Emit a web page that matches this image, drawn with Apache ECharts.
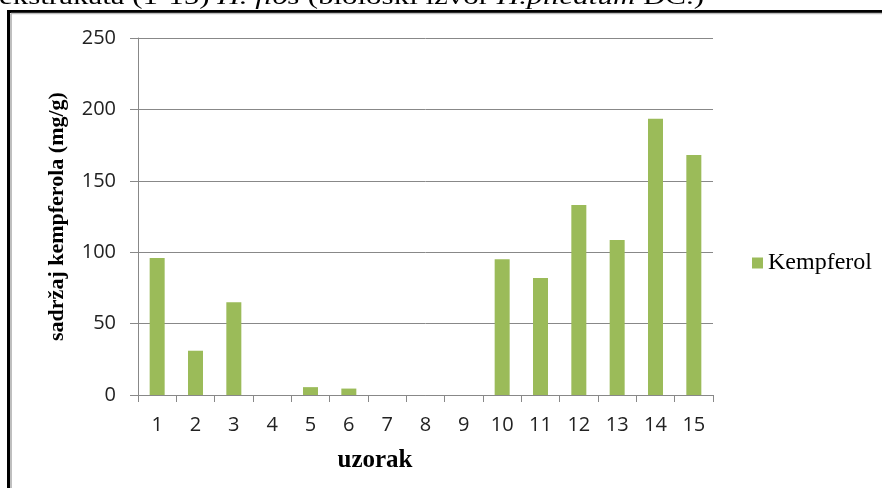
<!DOCTYPE html>
<html>
<head>
<meta charset="utf-8">
<script src="https://cdn.jsdelivr.net/npm/echarts@6/dist/echarts.min.js"></script>
<style>
  html, body { margin: 0; padding: 0; background: #fff; }
  #chart { width: 882px; height: 488px; }
</style>
</head>
<body>
<div id="chart"></div>
<script>
const categories = ['1', '2', '3', '4', '5', '6', '7', '8', '9', '10', '11', '12', '13', '14', '15'];
const kempferol = [96, 31, 65, 0, 5.5, 4.5, 0, 0, 0, 95, 82, 133, 108.5, 193.5, 168];
const seriesName = 'Kempferol';
const yAxisName = 'sadržaj kempferola (mg/g)';
const xAxisName = 'uzorak';
const yMin = 0, yMax = 250, yInterval = 50;

const chart = echarts.init(document.getElementById('chart'), null, { renderer: 'canvas' });
const serif = '"Liberation Serif", "Times New Roman", serif';
const sans = '"Open Sans", "Liberation Sans", sans-serif';

chart.setOption({
  animation: false,
  backgroundColor: '#fff',
  grid: { left: 138, right: 169, top: 38, bottom: 93, containLabel: false },
  legend: {
    data: [seriesName],
    left: 747, top: 246,
    icon: 'rect', itemWidth: 11, itemHeight: 11, itemGap: 5,
    textStyle: { fontFamily: serif, fontSize: 24, color: '#000' }
  },
  xAxis: {
    type: 'category',
    data: categories,
    axisLine: { lineStyle: { color: '#888', width: 1 } },
    axisTick: { show: true, length: 7, lineStyle: { color: '#888' } },
    axisLabel: { fontFamily: sans, fontSize: 20, color: '#222', margin: 20 },
    splitLine: { show: false }
  },
  yAxis: {
    type: 'value',
    min: yMin, max: yMax, interval: yInterval,
    name: yAxisName,
    nameLocation: 'middle',
    nameRotate: 90,
    nameGap: 70,
    nameTextStyle: { fontFamily: serif, fontSize: 22, fontWeight: 'bold', color: '#000' },
    axisLine: { show: true, lineStyle: { color: '#888', width: 1 } },
    axisTick: { show: true, length: 8, lineStyle: { color: '#888' } },
    axisLabel: { fontFamily: sans, fontSize: 20, color: '#222', margin: 22 },
    splitLine: { show: true, lineStyle: { color: '#888', width: 1 } }
  },
  series: [{
    name: seriesName,
    type: 'bar',
    data: kempferol,
    barWidth: 15,
    itemStyle: { color: '#9BBB59' }
  }],
  graphic: [
    {
      type: 'text', x: -1, y: 10, scaleX: 1.29,
      style: {
        text: '{n|ekstrakata (1-15) }{i|H. fios}{n| (biološki izvor }{i|H.plicatum}{n| DC.)}',
        verticalAlign: 'bottom',
        rich: {
          n: { fontFamily: serif, fontSize: 24, fill: '#000' },
          i: { fontFamily: serif, fontSize: 24, fontStyle: 'italic', fill: '#000' }
        }
      }
    },
    { type: 'rect', shape: { x: 0, y: 10, width: 882, height: 478 }, style: { fill: '#fff' }, z: -1 },
    { type: 'line', shape: { x1: 8.5, y1: 11.5, x2: 882, y2: 11.5 }, style: { stroke: '#000', lineWidth: 3 } },
    { type: 'line', shape: { x1: 8.5, y1: 10, x2: 8.5, y2: 488 }, style: { stroke: '#000', lineWidth: 3 } },
    { type: 'line', shape: { x1: 11, y1: 13.5, x2: 882, y2: 13.5 }, style: { stroke: '#bbb', lineWidth: 1.5 } },
    { type: 'line', shape: { x1: 11, y1: 13.5, x2: 11, y2: 488 }, style: { stroke: '#aaa', lineWidth: 1.5 } },
    {
      type: 'text', x: 375, y: 461,
      style: {
        text: xAxisName, fontFamily: serif, fontSize: 25, fontWeight: 'bold', fill: '#000',
        align: 'center', verticalAlign: 'middle'
      }
    }
  ]
});
</script>
</body>
</html>
